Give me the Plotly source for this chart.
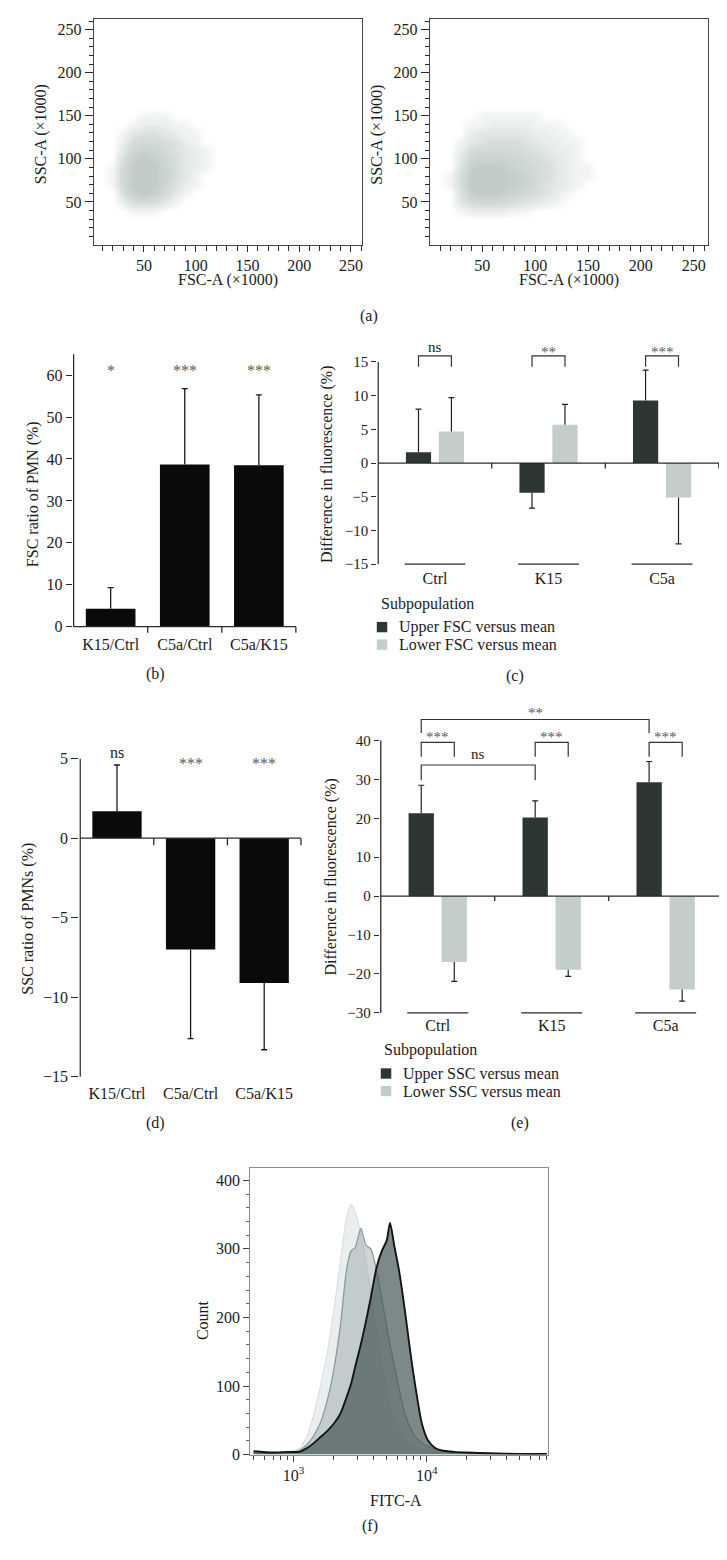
import plotly.graph_objects as go

W, H = 727, 1560
SERIF = "Liberation Serif"
TXT = "#1c1c1c"
AXC = "#2b2b2b"
FRAME_A = "#454545"
FRAME_F = "#7f9195"
DARK = "#2e3535"
LIGHT = "#c3cdca"
BLACK = "#0a0a0a"
STAR = "#5c5c5c"

# ---------------- data ----------------
# (a) relative dot density of the FSC/SSC clouds (rows follow ssc_bins)
ssc_bins = [30, 40, 50, 60, 70, 80, 90, 100, 110, 120, 130, 140, 150, 160]
fsc_bins_left = [10, 20, 30, 40, 50, 60, 70, 80, 90, 100, 110, 120]
density_left = [
    [0, 0, 0, 0, 0, 0, 0, 0, 0, 0, 0, 0],
    [0, 0, 0, 1, 1, 1, 0, 0, 0, 0, 0, 0],
    [0, 0, 2, 5, 6, 5, 3, 1, 0, 0, 0, 0],
    [0, 0, 5, 9, 10, 9, 6, 3, 1, 0, 0, 0],
    [0, 1, 6, 10, 10, 10, 7, 4, 2, 1, 0, 0],
    [0, 1, 6, 10, 10, 10, 8, 5, 3, 1, 0, 0],
    [0, 1, 6, 10, 10, 10, 8, 5, 3, 2, 1, 0],
    [0, 0, 5, 9, 10, 9, 7, 5, 3, 2, 1, 0],
    [0, 0, 3, 7, 8, 7, 6, 4, 3, 2, 1, 0],
    [0, 0, 2, 5, 6, 6, 5, 4, 2, 1, 0, 0],
    [0, 0, 1, 3, 4, 4, 3, 2, 1, 1, 0, 0],
    [0, 0, 0, 1, 2, 2, 2, 1, 1, 0, 0, 0],
    [0, 0, 0, 0, 1, 1, 1, 0, 0, 0, 0, 0],
    [0, 0, 0, 0, 0, 0, 0, 0, 0, 0, 0, 0],
]
fsc_bins_right = [10, 20, 30, 40, 50, 60, 70, 80, 90, 100, 110, 120, 130, 140, 150, 160, 170]
density_right = [
    [0, 0, 0, 0, 0, 0, 0, 0, 0, 0, 0, 0, 0, 0, 0, 0, 0],
    [0, 0, 1, 2, 2, 2, 2, 1, 1, 0, 0, 0, 0, 0, 0, 0, 0],
    [0, 0, 3, 6, 7, 7, 6, 5, 4, 3, 2, 1, 0, 0, 0, 0, 0],
    [0, 0, 4, 9, 10, 10, 9, 8, 7, 5, 4, 2, 1, 0, 0, 0, 0],
    [0, 1, 5, 10, 10, 10, 10, 9, 8, 6, 4, 3, 2, 1, 0, 0, 0],
    [0, 1, 5, 10, 10, 10, 10, 9, 8, 6, 5, 3, 2, 1, 1, 0, 0],
    [0, 0, 4, 9, 10, 10, 9, 8, 7, 6, 5, 3, 2, 1, 1, 0, 0],
    [0, 0, 3, 7, 8, 8, 8, 7, 6, 5, 4, 3, 2, 1, 0, 0, 0],
    [0, 0, 2, 5, 6, 6, 6, 6, 5, 4, 3, 2, 2, 1, 0, 0, 0],
    [0, 0, 1, 3, 4, 5, 5, 5, 4, 3, 2, 2, 1, 1, 0, 0, 0],
    [0, 0, 0, 2, 3, 3, 3, 3, 3, 2, 2, 1, 1, 0, 0, 0, 0],
    [0, 0, 0, 1, 1, 2, 2, 2, 2, 1, 1, 1, 0, 0, 0, 0, 0],
    [0, 0, 0, 0, 1, 1, 1, 1, 1, 1, 0, 0, 0, 0, 0, 0, 0],
    [0, 0, 0, 0, 0, 0, 0, 0, 0, 0, 0, 0, 0, 0, 0, 0, 0],
]

# (b) / (d) ratios
ratio_cats = ["K15/Ctrl", "C5a/Ctrl", "C5a/K15"]
fsc_ratio = [4.3, 38.7, 38.5]
fsc_ratio_err = [5.0, 18.1, 16.8]
fsc_ratio_sig = ["*", "***", "***"]
ssc_ratio = [1.7, -7.0, -9.1]
ssc_ratio_err = [2.9, 5.6, 4.2]
ssc_ratio_sig = ["ns", "***", "***"]

# (c) / (e) subpopulations
groups = ["Ctrl", "K15", "C5a"]
fsc_upper = [1.6, -4.4, 9.3]
fsc_upper_err = [6.4, 2.3, 4.5]
fsc_lower = [4.7, 5.7, -5.1]
fsc_lower_err = [5.0, 3.0, 6.9]
fsc_pair_sig = ["ns", "**", "***"]
ssc_upper = [21.3, 20.2, 29.3]
ssc_upper_err = [7.2, 4.3, 5.3]
ssc_lower = [-16.9, -18.9, -24.0]
ssc_lower_err = [5.0, 1.7, 3.0]
ssc_pair_sig = ["***", "***", "***"]
ssc_between = [("Ctrl", "K15", "ns"), ("Ctrl", "C5a", "**")]

# (f) histograms
fitc = [500, 700, 900, 1100, 1250, 1400, 1600, 1800, 2000, 2250, 2500, 2700, 2900,
        3200, 3500, 3800, 4200, 4600, 5000, 5300, 5700, 6200, 6800, 7500, 8300,
        9200, 10200, 11500, 13000, 16000, 20000, 30000, 50000, 80000]
count_light = [2, 2, 4, 9, 26, 55, 103, 152, 210, 283, 346, 365, 355,
               322, 280, 235, 180, 130, 92, 70, 50, 36, 25, 17, 12,
               8, 6, 4, 3, 2, 1, 1, 0, 0]
count_mid = [2, 2, 3, 6, 14, 26, 48, 81, 123, 190, 270, 297, 302,
             330, 305, 300, 268, 228, 186, 160, 130, 95, 62, 40, 25,
             17, 12, 8, 5, 3, 2, 1, 1, 0]
count_dark = [5, 3, 4, 4, 9, 16, 26, 35, 45, 60, 84, 103, 128,
              161, 195, 229, 273, 297, 312, 338, 305, 268, 215, 152, 94,
              45, 21, 10, 6, 4, 3, 2, 1, 1]


# ---------------- helpers ----------------
def xp(px):
    return px / W


def yp(py):
    return 1 - py / H


def err_path(xs, vals, errs, half):
    X, Y = [], []
    for x, v, e in zip(xs, vals, errs):
        tip = v + e if v >= 0 else v - e
        X += [x, x, None, x - half, x + half, None]
        Y += [v, tip, None, tip, tip, None]
    return X, Y


def font(size, color=TXT):
    return dict(family=SERIF, size=size, color=color)


fig = go.Figure()
shapes = []
annotations = []


def ann(text, x, y, size=16, angle=0, xanchor="center", color=TXT, xref="paper", yref="paper", yshift=0):
    annotations.append(dict(text=text, x=x, y=y, xref=xref, yref=yref, showarrow=False,
                            font=font(size, color), textangle=angle, xanchor=xanchor,
                            yanchor="middle", yshift=yshift))


def pline(x0, y0, x1, y1, n, color=AXC, width=1.3):
    shapes.append(dict(type="line", x0=x0, y0=y0, x1=x1, y1=y1, xref=f"x{n}", yref=f"y{n}",
                       line=dict(color=color, width=width)))


# ---------------- (a) scatter clouds ----------------
CLOUD = [[0, "#ffffff"], [0.1, "#f1f4f3"], [0.45, "#d8e0dd"], [1, "#c1ccc9"]]
fig.add_trace(go.Heatmap(x=fsc_bins_left, y=ssc_bins, z=density_left, zsmooth="best",
                         colorscale=CLOUD, zmin=0, zmax=10, showscale=False,
                         xaxis="x", yaxis="y", hoverinfo="skip"))
fig.add_trace(go.Heatmap(x=fsc_bins_right, y=ssc_bins, z=density_right, zsmooth="best",
                         colorscale=CLOUD, zmin=0, zmax=10, showscale=False,
                         xaxis="x2", yaxis="y2", hoverinfo="skip"))


def scat_axes(xdom_px, xr):
    xa = dict(domain=[xp(xdom_px[0]), xp(xdom_px[1])], range=xr, showline=True, mirror=True,
              linecolor=FRAME_A, linewidth=1.2, ticks="outside", ticklen=6, tickwidth=1.1,
              tickcolor=AXC, tick0=0, dtick=50, showgrid=False, zeroline=False,
              minor=dict(tick0=0, dtick=10, ticks="outside", ticklen=5, tickcolor=AXC, showgrid=False),
              tickfont=font(16))
    ya = dict(domain=[yp(238), yp(11)], range=[0.4, 262.4], showline=True, mirror=True,
              linecolor=FRAME_A, linewidth=1.2, ticks="outside", ticklen=8, tickwidth=1.1,
              tickcolor=AXC, tick0=0, dtick=50, showgrid=False, zeroline=False,
              minor=dict(tick0=0, dtick=10, ticks="outside", ticklen=4, tickcolor=AXC, showgrid=False),
              tickfont=font(16))
    return xa, ya


xa1, ya1 = scat_axes((86, 354), [1.7, 260.2])
xa2, ya2 = scat_axes((422.3, 700.7), [0.2, 263.3])
ann("SSC-A (×1000)", xp(33), yp(127), angle=-90)
ann("SSC-A (×1000)", xp(370), yp(127), angle=-90)
ann("FSC-A (×1000)", xp(220), yp(274))
ann("FSC-A (×1000)", xp(561.7), yp(274))
ann("(a)", xp(361), yp(310))

# ---------------- bar panels geometry ----------------
idx = [0, 1, 2]
G = {
    3: dict(ax=65.7, ppu=74.2, y0=622.3, ppv=4.217, yr=(-1.6, 65.4), yline=(0, 65),
            ticks=[0, 10, 20, 30, 40, 50, 60], tlen=6, btick=6, tfs=16, cats=ratio_cats, cfs=16),
    4: dict(ax=370.7, ppu=113.7, y0=457.7, ppv=6.778, yr=(-15.4, 18.2), yline=(-15, 15),
            ticks=[-15, -10, -5, 0, 5, 10, 15], tlen=5, btick=5.5, tfs=15, cats=groups, cfs=16),
    5: dict(ax=72.3, ppu=73.7, y0=835.0, ppv=16.0, yr=(-15.3, 6.2), yline=(-15, 5),
            ticks=[-15, -10, -5, 0, 5], tlen=7, btick=7, tfs=16, cats=ratio_cats, cfs=16),
    6: dict(ax=373.3, ppu=114.1, y0=893.3, ppv=3.914, yr=(-30.4, 50), yline=(-30, 40),
            ticks=[-30, -20, -10, 0, 10, 20, 30, 40], tlen=5, btick=5, tfs=15, cats=groups, cfs=16),
}
axes_layout = {}
for n, g in G.items():
    pad = 1.0
    axes_layout[f"xaxis{n}"] = dict(
        domain=[xp(g["ax"] - pad), xp(g["ax"] + 3 * g["ppu"] + pad)],
        range=[-0.5 - pad / g["ppu"], 2.5 + pad / g["ppu"]], anchor=f"y{n}",
        tickmode="array", tickvals=idx, ticktext=g["cats"], ticks="",
        showline=False, showgrid=False, zeroline=False, tickfont=font(g["cfs"]))
    axes_layout[f"yaxis{n}"] = dict(
        domain=[yp(g["y0"] - g["yr"][0] * g["ppv"]), yp(g["y0"] - g["yr"][1] * g["ppv"])],
        range=list(g["yr"]), anchor=f"x{n}", tickmode="array", tickvals=g["ticks"],
        ticks="outside", ticklen=g["tlen"], tickwidth=1.3, tickcolor=AXC,
        showline=False, showgrid=False, zeroline=False, tickfont=font(g["tfs"]))
    pline(-0.5, g["yline"][0], -0.5, g["yline"][1], n)
    pline(-0.5, 0, 2.5, 0, n)
    for b in [0.5, 1.5, 2.5]:
        pline(b, 0, b, -g["btick"] / g["ppv"], n)

# ---------------- (b) ----------------
fig.add_trace(go.Bar(x=idx, y=fsc_ratio, width=0.67, marker=dict(color=BLACK, line=dict(width=0)),
                     xaxis="x3", yaxis="y3", showlegend=False, hoverinfo="skip"))
ex, ey = err_path(idx, fsc_ratio, fsc_ratio_err, 3 / G[3]["ppu"])
fig.add_trace(go.Scatter(x=ex, y=ey, mode="lines", line=dict(color="#1a1a1a", width=1.3),
                         xaxis="x3", yaxis="y3", showlegend=False, hoverinfo="skip"))
for i, s in zip(idx, fsc_ratio_sig):
    ann(s, i, 61.8, size=16, color=STAR, xref="x3", yref="y3", yshift=-3)
ann("FSC ratio of PMN (%)", xp(25), yp(489), angle=-90)
ann("(b)", xp(148), yp(670))

# ---------------- (d) ----------------
fig.add_trace(go.Bar(x=idx, y=ssc_ratio, width=0.67, marker=dict(color=BLACK, line=dict(width=0)),
                     xaxis="x5", yaxis="y5", showlegend=False, hoverinfo="skip"))
ex, ey = err_path(idx, ssc_ratio, ssc_ratio_err, 3 / G[5]["ppu"])
fig.add_trace(go.Scatter(x=ex, y=ey, mode="lines", line=dict(color="#1a1a1a", width=1.3),
                         xaxis="x5", yaxis="y5", showlegend=False, hoverinfo="skip"))
for i, s in zip(idx, ssc_ratio_sig):
    if s == "ns":
        ann(s, i, 5.3, size=16, color=TXT, xref="x5", yref="y5", yshift=1.5)
    else:
        ann(s, i, 4.9, size=16, color=STAR, xref="x5", yref="y5", yshift=-3)
ann("SSC ratio of PMNs (%)", xp(20), yp(916), angle=-90)
ann("(d)", xp(148), yp(1121))

# ---------------- (c) / (e) grouped ----------------
BW = 0.222
SHIFT = 0.145


def grouped(n, upper, upper_err, lower, lower_err):
    fig.add_trace(go.Bar(x=idx, y=upper, width=BW, offset=-SHIFT - BW / 2,
                         marker=dict(color=DARK, line=dict(width=0)),
                         xaxis=f"x{n}", yaxis=f"y{n}", showlegend=False, hoverinfo="skip"))
    fig.add_trace(go.Bar(x=idx, y=lower, width=BW, offset=SHIFT - BW / 2,
                         marker=dict(color=LIGHT, line=dict(width=0)),
                         xaxis=f"x{n}", yaxis=f"y{n}", showlegend=False, hoverinfo="skip"))
    half = 3 / G[n]["ppu"]
    x1, y1 = err_path([i - SHIFT for i in idx], upper, upper_err, half)
    x2, y2 = err_path([i + SHIFT for i in idx], lower, lower_err, half)
    fig.add_trace(go.Scatter(x=x1 + x2, y=y1 + y2, mode="lines", line=dict(color="#222222", width=1.2),
                             xaxis=f"x{n}", yaxis=f"y{n}", showlegend=False, hoverinfo="skip"))
    lo = G[n]["yline"][0]
    for i in idx:
        pline(i - 0.268, lo, i + 0.268, lo, n, width=1.1)


def brackets(n, items):
    X, Y = [], []
    for xa, xb, top, leg, label, ty in items:
        X += [xa, xa, xb, xb, None]
        Y += [leg, top, top, leg, None]
        if label == "ns":
            ann(label, (xa + xb) / 2, ty, size=15, color=TXT, xref=f"x{n}", yref=f"y{n}", yshift=1.5)
        else:
            ann(label, (xa + xb) / 2, ty, size=15, color=STAR, xref=f"x{n}", yref=f"y{n}", yshift=-3)
    fig.add_trace(go.Scatter(x=X, y=Y, mode="lines", line=dict(color="#333333", width=1.2),
                             xaxis=f"x{n}", yaxis=f"y{n}", showlegend=False, hoverinfo="skip"))


grouped(4, fsc_upper, fsc_upper_err, fsc_lower, fsc_lower_err)
brackets(4, [(i - SHIFT, i + SHIFT, 15.9, 14.3, s, 17.0) for i, s in zip(idx, fsc_pair_sig)])
ann("Difference in fluorescence (%)", xp(320), yp(459), angle=-90)
ann("(c)", xp(507.7), yp(672))

grouped(6, ssc_upper, ssc_upper_err, ssc_lower, ssc_lower_err)
items_e = [(i - SHIFT, i + SHIFT, 39.5, 35.8, s, 41.7) for i, s in zip(idx, ssc_pair_sig)]
between_geom = {"ns": (33.7, 29.8, 36.2), "**": (45.4, 41.9, 47.9)}
for ga, gb, s in ssc_between:
    top, leg, ty = between_geom[s]
    items_e.append((groups.index(ga) - SHIFT, groups.index(gb) - SHIFT, top, leg, s, ty))
brackets(6, items_e)
ann("Difference in fluorescence (%)", xp(323), yp(874), angle=-90)
ann("(e)", xp(512.7), yp(1121))


# manual legends
def legend(x_sq, y_title, y_items, labels, x_title, x_text):
    ann("Subpopulation", xp(x_title), yp(y_title), xanchor="left")
    for yc, lab, col in zip(y_items, labels, [DARK, LIGHT]):
        shapes.append(dict(type="rect", xref="paper", yref="paper",
                           x0=xp(x_sq), x1=xp(x_sq + 10.5), y0=yp(yc + 5.2), y1=yp(yc - 5.2),
                           fillcolor=col, line=dict(width=0)))
        ann(lab, xp(x_text), yp(yc), xanchor="left")


legend(369.3, 599, [622.7, 640.3], ["Upper FSC versus mean", "Lower FSC versus mean"], 371.7, 390)
legend(373.3, 1048.5, [1071.7, 1089.3], ["Upper SSC versus mean", "Lower SSC versus mean"], 375, 393.3)

# ---------------- (f) histogram ----------------
for cnt, fillc, linec, lw in [
    (count_light, "rgba(205,214,214,0.42)", "#d6dcdc", 1.0),
    (count_mid, "rgba(135,152,152,0.40)", "#8d9a9a", 1.3),
    (count_dark, "rgba(70,86,86,0.70)", "#141414", 1.9),
]:
    fig.add_trace(go.Scatter(x=fitc, y=cnt, mode="lines", fill="tozeroy", fillcolor=fillc,
                             line=dict(color=linec, width=lw, shape="spline", smoothing=0.7),
                             xaxis="x7", yaxis="y7", showlegend=False, hoverinfo="skip"))

axes_layout["xaxis7"] = dict(
    domain=[xp(242.7), xp(541)], type="log", range=[2.675, 4.913], anchor="y7",
    showline=True, mirror=True, linecolor=FRAME_F, linewidth=1.2, ticks="outside", ticklen=6,
    tickcolor="#444444", tickmode="array", tickvals=[1000, 10000],
    ticktext=["10<sup>3</sup>", "10<sup>4</sup>"], showgrid=False, zeroline=False,
    minor=dict(tickmode="array",
               tickvals=[500, 600, 700, 800, 900, 2000, 3000, 4000, 5000, 6000, 7000, 8000, 9000,
                         20000, 30000, 40000, 50000, 60000, 70000, 80000],
               ticks="outside", ticklen=4, tickcolor="#444444", showgrid=False),
    tickfont=font(16))
axes_layout["yaxis7"] = dict(
    domain=[yp(1455), yp(1166.7)], range=[0, 418], anchor="x7", showline=True, mirror=True,
    linecolor=FRAME_F, linewidth=1.2, ticks="outside", ticklen=6, tickcolor="#444444",
    tick0=0, dtick=100, showgrid=False, zeroline=False,
    minor=dict(tick0=0, dtick=20, ticks="outside", ticklen=3, tickcolor="#666666", showgrid=False),
    tickfont=font(16))
ann("Count", xp(195), yp(1320), angle=-90)
ann("FITC-A", xp(389), yp(1501))
ann("(f)", xp(362.7), yp(1527.3))

fig.update_layout(
    width=W, height=H, autosize=False, margin=dict(l=0, r=0, t=0, b=0),
    paper_bgcolor="white", plot_bgcolor="white", barmode="overlay", showlegend=False,
    xaxis=dict(xa1, anchor="y"), yaxis=dict(ya1, anchor="x"),
    xaxis2=dict(xa2, anchor="y2"), yaxis2=dict(ya2, anchor="x2"),
    shapes=shapes, annotations=annotations, font=font(16),
    **axes_layout,
)

fig.write_html("out.html")
